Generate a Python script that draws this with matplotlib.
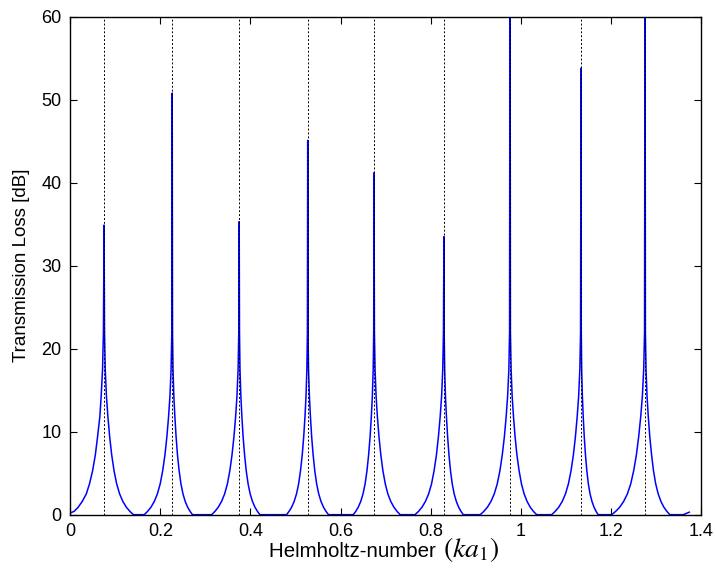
import matplotlib
matplotlib.use('Agg')
import matplotlib.pyplot as plt

# Posiciones de las resonancias (líneas discontinuas)
ka_resonancias = [0.0754, 0.2265, 0.375, 0.527, 0.674, 0.829, 0.9756, 1.133, 1.275]

# Curva de pérdida de transmisión (un tramo por pico)
ka = [
    0.000, 0.009, 0.018, 0.027, 0.036, 0.043, 0.050, 0.056, 0.061, 0.066, 0.069, 0.072, 0.074, 0.0754,
    0.0764, 0.078, 0.0806, 0.0839, 0.0878, 0.0923, 0.0975, 0.1034, 0.1099, 0.117, 0.1248, 0.1326, 0.1404,
    0.1645, 0.1719, 0.1794, 0.1868, 0.1936, 0.1998, 0.2054, 0.2104, 0.2147, 0.2184, 0.2215, 0.224, 0.2256, 0.2265,
    0.2272, 0.2283, 0.2301, 0.2324, 0.2351, 0.2382, 0.2418, 0.2459, 0.2504, 0.2553, 0.2607, 0.2661, 0.2715,
    0.314, 0.3213, 0.3286, 0.336, 0.3427, 0.3488, 0.3543, 0.3591, 0.3634, 0.3671, 0.3701, 0.3726, 0.3741, 0.375,
    0.3757, 0.3768, 0.3787, 0.381, 0.3837, 0.387, 0.3906, 0.3948, 0.3994, 0.4044, 0.41, 0.4155, 0.421,
    0.480, 0.4856, 0.4913, 0.4969, 0.5021, 0.5068, 0.511, 0.5148, 0.5181, 0.5209, 0.5232, 0.5251, 0.5263, 0.527,
    0.5277, 0.5288, 0.5307, 0.533, 0.5357, 0.539, 0.5426, 0.5468, 0.5514, 0.5564, 0.562, 0.5675, 0.573,
    0.628, 0.6335, 0.639, 0.6446, 0.6496, 0.6542, 0.6584, 0.662, 0.6653, 0.668, 0.6703, 0.6722, 0.6733, 0.674,
    0.6749, 0.6763, 0.6786, 0.6815, 0.685, 0.6891, 0.6937, 0.699, 0.7047, 0.7111, 0.7181, 0.725, 0.732,
    0.765, 0.7727, 0.7804, 0.788, 0.7951, 0.8015, 0.8072, 0.8124, 0.8168, 0.8207, 0.8239, 0.8264, 0.828, 0.829,
    0.8296, 0.8307, 0.8324, 0.8346, 0.8372, 0.8402, 0.8436, 0.8475, 0.8518, 0.8565, 0.8617, 0.8668, 0.872,
    0.9096, 0.9175, 0.9254, 0.9334, 0.9406, 0.9472, 0.9532, 0.9584, 0.9631, 0.967, 0.9703, 0.973, 0.9746, 0.9756,
    0.9765, 0.978, 0.9803, 0.9833, 0.9868, 0.9909, 0.9957, 1.001, 1.0069, 1.0134, 1.0204, 1.0275, 1.0346,
    1.068, 1.0758, 1.0836, 1.0914, 1.0985, 1.105, 1.1109, 1.1161, 1.1206, 1.1245, 1.1278, 1.1304, 1.132, 1.133,
    1.1336, 1.1345, 1.136, 1.1379, 1.1402, 1.1429, 1.1459, 1.1493, 1.1531, 1.1573, 1.1619, 1.1664, 1.171,
    1.201, 1.2099, 1.2188, 1.2276, 1.2358, 1.2432, 1.2498, 1.2558, 1.2609, 1.2654, 1.2691, 1.272, 1.2739, 1.275,
    1.2758, 1.2772, 1.2794, 1.2822, 1.2855, 1.2895, 1.2937, 1.2987, 1.3042, 1.3102, 1.3168, 1.3234, 1.330,
    1.360, 1.373,
]

tl = [
    0.2, 0.4, 0.9, 1.6, 2.5, 3.7, 5.3, 7.2, 9.4, 11.8, 14.3, 17.5, 22, 34.9,
    22, 17.5, 14.3, 11.8, 9.4, 7.2, 5.3, 3.7, 2.5, 1.6, 0.9, 0.4, 0.0,
    0.0, 0.4, 0.9, 1.6, 2.5, 3.7, 5.3, 7.2, 9.4, 11.8, 14.3, 17.5, 22, 50.8,
    22, 17.5, 14.3, 11.8, 9.4, 7.2, 5.3, 3.7, 2.5, 1.6, 0.9, 0.4, 0.0,
    0.0, 0.4, 0.9, 1.6, 2.5, 3.7, 5.3, 7.2, 9.4, 11.8, 14.3, 17.5, 22, 35.3,
    22, 17.5, 14.3, 11.8, 9.4, 7.2, 5.3, 3.7, 2.5, 1.6, 0.9, 0.4, 0.0,
    0.0, 0.4, 0.9, 1.6, 2.5, 3.7, 5.3, 7.2, 9.4, 11.8, 14.3, 17.5, 22, 45.1,
    22, 17.5, 14.3, 11.8, 9.4, 7.2, 5.3, 3.7, 2.5, 1.6, 0.9, 0.4, 0.0,
    0.0, 0.4, 0.9, 1.6, 2.5, 3.7, 5.3, 7.2, 9.4, 11.8, 14.3, 17.5, 22, 41.2,
    22, 17.5, 14.3, 11.8, 9.4, 7.2, 5.3, 3.7, 2.5, 1.6, 0.9, 0.4, 0.0,
    0.0, 0.4, 0.9, 1.6, 2.5, 3.7, 5.3, 7.2, 9.4, 11.8, 14.3, 17.5, 22, 33.5,
    22, 17.5, 14.3, 11.8, 9.4, 7.2, 5.3, 3.7, 2.5, 1.6, 0.9, 0.4, 0.0,
    0.0, 0.4, 0.9, 1.6, 2.5, 3.7, 5.3, 7.2, 9.4, 11.8, 14.3, 17.5, 22, 75.0,
    22, 17.5, 14.3, 11.8, 9.4, 7.2, 5.3, 3.7, 2.5, 1.6, 0.9, 0.4, 0.0,
    0.0, 0.4, 0.9, 1.6, 2.5, 3.7, 5.3, 7.2, 9.4, 11.8, 14.3, 17.5, 22, 53.8,
    22, 17.5, 14.3, 11.8, 9.4, 7.2, 5.3, 3.7, 2.5, 1.6, 0.9, 0.4, 0.0,
    0.0, 0.4, 0.9, 1.6, 2.5, 3.7, 5.3, 7.2, 9.4, 11.8, 14.3, 17.5, 22, 72.0,
    22, 17.5, 14.3, 11.8, 9.4, 7.2, 5.3, 3.7, 2.5, 1.6, 0.9, 0.4, 0.0,
    0.0, 0.3,
]

xticks = [0, 0.2, 0.4, 0.6, 0.8, 1.0, 1.2, 1.4]
xtick_labels = ['0', '0.2', '0.4', '0.6', '0.8', '1', '1.2', '1.4']
yticks = [0, 10, 20, 30, 40, 50, 60]

plt.rcParams['font.family'] = ['Liberation Sans', 'DejaVu Sans']
plt.rcParams['mathtext.fontset'] = 'stix'

fig = plt.figure(figsize=(7.15, 5.77), dpi=100)
ax = fig.add_axes([0.098, 0.108, 0.883, 0.863])

ax.plot(ka, tl, color='#0000ff', lw=1.1, zorder=2)
for k in ka_resonancias:
    ax.axvline(k, color='black', lw=0.7, dashes=(2, 2), zorder=3)

ax.set_xlim(0, 1.4)
ax.set_ylim(0, 60)
ax.set_xticks(xticks)
ax.set_xticklabels(xtick_labels)
ax.set_yticks(yticks)
ax.tick_params(direction='in', length=5, width=0.8, top=True, right=True, labelsize=13, pad=6)
for s in ax.spines.values():
    s.set_linewidth(1.0)

# etiqueta del eje x en dos partes: texto normal + símbolo en cursiva más grande
fig.text(0.617, 0.035, 'Helmholtz-number ', fontsize=14.8, ha='right', va='baseline')
fig.text(0.619, 0.035, r'$(ka_1)$', fontsize=20, ha='left', va='baseline')
ax.set_ylabel('Transmission Loss [dB]', fontsize=13.5, labelpad=8)

fig.savefig('out.png', dpi=100)
